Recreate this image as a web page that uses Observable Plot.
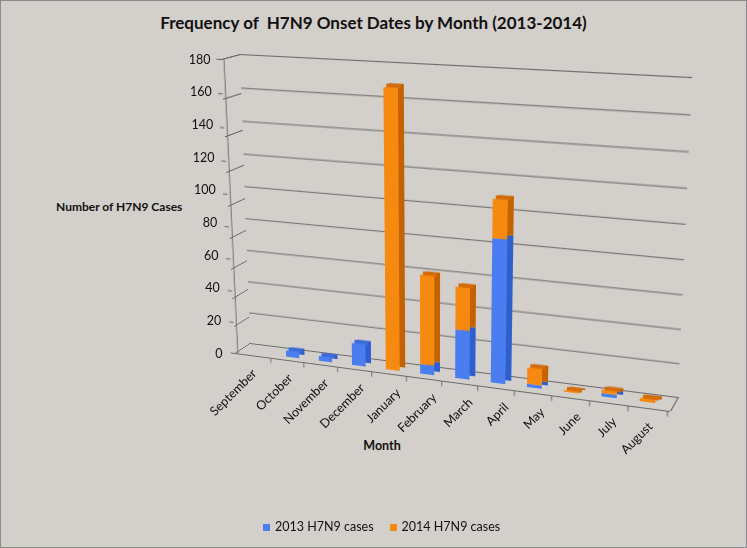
<!DOCTYPE html>
<html>
<head>
<meta charset="utf-8">
<script src="https://cdn.jsdelivr.net/npm/d3@7"></script>
<script src="https://cdn.jsdelivr.net/npm/@observablehq/plot@0.6"></script>
<style>
html, body { margin: 0; padding: 0; background: #d3cfca; }
#chart { position: relative; width: 747px; height: 548px; background: #d3cfca; overflow: hidden;
  box-shadow: inset 0 0 0 1px #8c8c8c; font-family: Lato, "Open Sans", sans-serif; color: #111; }
#chart svg { position: absolute; left: 0; top: 0; transform-origin: 0 0; overflow: visible; }
.title { position: absolute; left: 0; width: 747px; top: 12px; line-height: 22px; text-align: center;
  font-weight: bold; font-size: 17px; white-space: pre; }
.ytitle { position: absolute; left: 56px; top: 199px; font-weight: bold; font-size: 12px; line-height: 16px; white-space: nowrap; }
.xtitle { position: absolute; left: 332px; width: 100px; text-align: center; top: 438px; font-weight: bold; font-size: 12.5px; line-height: 16px; }
.legend { position: absolute; left: 263px; top: 519px; font-size: 12.5px; line-height: 16px; display: flex; align-items: center; white-space: nowrap; }
.legend .sw { display: inline-block; width: 7px; height: 7px; margin-right: 5px; }
.legend .item { display: flex; align-items: center; margin-right: 16px; }
</style>
</head>
<body>
<div id="chart">
  <div class="title">Frequency of  H7N9 Onset Dates by Month (2013-2014)</div>
  <div class="ytitle">Number of H7N9 Cases</div>
  <div class="xtitle">Month</div>
</div>
<script>
// ---------- data ----------
const months = ["September","October","November","December","January","February","March","April","May","June","July","August"];
const cases2013 = [0, 4, 3, 14, 0, 6, 30, 87, 2, 0, 2, 0];
const cases2014 = [0, 0, 0, 0, 170, 55, 26, 23, 10, 1, 2, 2];
const seriesNames = ["2013 H7N9 cases", "2014 H7N9 cases"];
const yTicks = [0, 20, 40, 60, 80, 100, 120, 140, 160, 180];

// ---------- styling ----------
const frontColor = {"2013 H7N9 cases": "#4a7ef0", "2014 H7N9 cases": "#f68a10"};
const sideColor  = {"2013 H7N9 cases": "#2f5fcc", "2014 H7N9 cases": "#c46200"};
const topColor   = {"2013 H7N9 cases": "#3c6cdc", "2014 H7N9 cases": "#d46c0c"};
const gridColor = "#6b6b6b";
const fontStack = "Lato, 'Open Sans', sans-serif";

const table = months.flatMap((m, i) => [
  {month: m, series: seriesNames[0], value: cases2013[i]},
  {month: m, series: seriesNames[1], value: cases2014[i]}
]);
const tops = months.map((m, i) => ({
  month: m,
  total: cases2013[i] + cases2014[i],
  series: cases2014[i] > 0 ? seriesNames[1] : seriesNames[0]
})).filter(d => d.total > 0);

// ---------- perspective helper (CSS homography of a plane) ----------
function homography(W, H, q) {
  const [[x0, y0], [x1, y1], [x2, y2], [x3, y3]] = q;
  const dx1 = x1 - x2, dx2 = x3 - x2, dx3 = x0 - x1 + x2 - x3;
  const dy1 = y1 - y2, dy2 = y3 - y2, dy3 = y0 - y1 + y2 - y3;
  const den = dx1 * dy2 - dx2 * dy1;
  const g = (dx3 * dy2 - dx2 * dy3) / den, h = (dx1 * dy3 - dx3 * dy1) / den;
  const a = x1 - x0 + g * x1, b = x3 - x0 + h * x3, c = x0;
  const d = y1 - y0 + g * y1, e = y3 - y0 + h * y3, f = y0;
  return `matrix3d(${a / W},${d / W},0,${g / W},${b / H},${e / H},0,${h / H},0,0,1,0,${c},${f},0,1)`;
}

const W = 450, H = 290, D = 20;
const step = W / months.length;
const chart = document.getElementById("chart");
const baseStyle = {background: "transparent", overflow: "visible"};
const xBand = {type: "band", domain: months, range: [0, W], paddingInner: 0.6, paddingOuter: 0.3, align: 0.5, axis: null};
const yVal = {domain: [0, 180], range: [H, 0], axis: null};

function place(svg, transform) {
  svg.style.transform = transform || "none";
  chart.appendChild(svg);
}

// back wall quad (screen)
const wallQuad = [[240, 54], [692, 77], [678, 397], [250, 343]];
// side wall (left) quad: front-top, back-top, back-bottom, front-bottom
const sideQuad = [[221, 59], [240, 54], [250, 343], [235, 353]];
// floor: back-left, back-right, front-right, front-left
const floorQuad = [[250, 343], [678, 397], [670, 411], [235, 353]];
// front plane: top-left, top-right, bottom-right, bottom-left
const frontQuad = [[221, 59], [683, 86], [670, 411], [235, 353]];

// back wall gridlines
place(Plot.plot({
  width: W, height: H, margin: 0, style: baseStyle,
  x: xBand, y: yVal,
  marks: [Plot.ruleY(yTicks, {stroke: gridColor, strokeWidth: 1})]
}), homography(W, H, wallQuad));

// side wall gridlines
place(Plot.plot({
  width: D, height: H, margin: 0, style: baseStyle,
  x: {domain: [0, D], range: [0, D], axis: null}, y: yVal,
  marks: [Plot.ruleY(yTicks, {stroke: gridColor, strokeWidth: 1})]
}), homography(D, H, sideQuad));

// floor right edge
place(Plot.plot({
  width: W, height: D, margin: 0, style: baseStyle,
  x: {domain: [0, W], range: [0, W], axis: null}, y: {domain: [0, D], range: [0, D], axis: null},
  marks: [Plot.ruleX([W], {y1: 0, y2: D, stroke: gridColor, strokeWidth: 1})]
}), homography(W, D, floorQuad));

// bars (front faces sit in front of the wall)
place(Plot.plot({
  width: W, height: H, margin: 0, style: baseStyle,
  x: xBand, y: yVal, color: {type: "identity"},
  marks: [
    Plot.barY(table, {x: "month", y: "value", z: "series", fill: d => sideColor[d.series], dx: 6, dy: -4}),
    Plot.tickY(tops, {x: "month", y: "total", stroke: d => topColor[d.series], strokeWidth: 4, dx: 3, dy: -2}),
    Plot.barY(table, {x: "month", y: "value", z: "series", fill: d => frontColor[d.series]})
  ]
}), "translate(-8px, 8px) " + homography(W, H, wallQuad));

// front plane: y axis line + ticks, front floor edge + month ticks
place(Plot.plot({
  width: W, height: H, margin: 0, style: {...baseStyle, color: gridColor},
  x: xBand,
  y: {domain: [0, 180], range: [H, 0], axis: "left", ticks: yTicks, tickSize: 5, tickFormat: () => "", label: null},
  marks: [
    Plot.ruleY([0], {stroke: gridColor, strokeWidth: 1}),
    Plot.ruleX([months[0]], {x: d => d, y1: 0, y2: 180, dx: -step / 2, stroke: gridColor, strokeWidth: 1}),
    Plot.ruleX(months, {x: d => d, y1: 0, y2: -3.5, dx: step / 2, stroke: gridColor, strokeWidth: 1})
  ]
}), homography(W, H, frontQuad));

// month labels
place(Plot.plot({
  width: 747, height: 548, margin: 0, style: {...baseStyle, fontFamily: fontStack, fontSize: "12.5px"},
  x: {type: "band", domain: months, range: [234, 670], axis: null},
  y: {domain: [0, months.length - 1], range: [371, 424], axis: null},
  marks: [Plot.text(months, {x: d => d, y: (d, i) => i, text: d => d, rotate: -45, textAnchor: "end", fontSize: 12.5, fill: "#111"})]
}));

// y tick labels
place(Plot.plot({
  width: 747, height: 548, margin: 0, style: {...baseStyle, fontFamily: fontStack, fontSize: "12.5px"},
  x: {domain: [0, 180], range: [222, 210], axis: null},
  y: {domain: [0, 180], range: [353, 59], axis: null},
  marks: [Plot.text(yTicks, {x: d => d, y: d => d, text: d => String(d), textAnchor: "end", fontSize: 12.5, fill: "#111"})]
}));

// legend
const legend = document.createElement("div");
legend.className = "legend";
seriesNames.forEach(s => {
  const item = document.createElement("span");
  item.className = "item";
  const sw = document.createElement("span");
  sw.className = "sw";
  sw.style.background = frontColor[s];
  item.appendChild(sw);
  item.appendChild(document.createTextNode(s));
  legend.appendChild(item);
});
chart.appendChild(legend);
</script>
</body>
</html>
